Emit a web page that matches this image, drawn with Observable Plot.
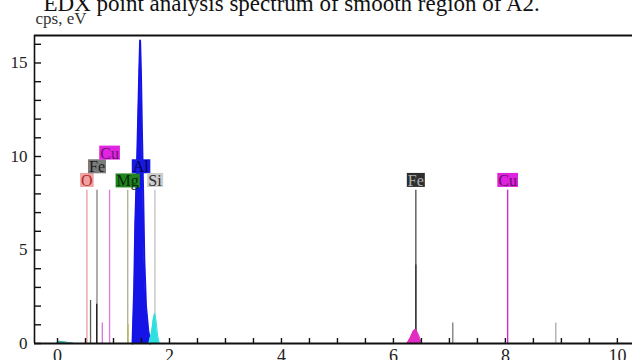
<!DOCTYPE html>
<html><head><meta charset="utf-8">
<script src="https://cdn.jsdelivr.net/npm/d3@7"></script>
<script src="https://cdn.jsdelivr.net/npm/@observablehq/plot@0.6"></script>
<style>
html,body{margin:0;padding:0;background:#fff;}
#chart{width:632px;height:360px;overflow:hidden;position:relative;}
#chart svg text{font-family:"Liberation Serif","Times New Roman",serif;}
</style></head><body><div id="chart"></div>
<script>
// ---- text ----
const title = "EDX point analysis spectrum of smooth region of A2.";
const yAxisLabel = "cps, eV";
const xTickLabels = [0, 2, 4, 6, 8, 10];
const yTickLabels = [0, 5, 10, 15];
const xMinorTicks = [0,0.5,1,1.5,2,2.5,3,3.5,4,4.5,5,5.5,6,6.5,7,7.5,8,8.5,9,9.5,10];
const yMinorTicks = [0,1,2,3,4,5,6,7,8,9,10,11,12,13,14,15,16];

// ---- element markers ----
const elements      = ["O", "Fe", "Cu", "Mg", "Al", "Si", "Fe", "Cu"];
const elementKeV    = [0.525, 0.705, 0.93, 1.254, 1.487, 1.74, 6.40, 8.04];
const labelTier     = [0, 1, 2, 0, 1, 0, 0, 0];
const labelBg       = ["#f0a2a2", "#7c7c7c", "#e024e0", "#1f861f", "#1818e0", "#cdcdcd", "#2e2e2e", "#de22de"];
const labelInk      = ["#b42828", "#1e1e1e", "#6e146e", "#0a260a", "#00004e", "#2e2e2e", "#b0b0b0", "#6a0f6a"];
const markerColor   = ["#e6a4a4", "#8a8a8a", "#e07ee0", "#a9b79a", "#1818e0", "#c4c4c4", "#555555", "#d02cd0"];

// ---- thin spectrum spikes ----
const spikeKeV   = [0.59, 0.70, 0.80, 1.26, 6.40, 7.06, 8.90];
const spikeCps   = [2.3, 2.1, 1.1, 1.0, 4.2, 1.1, 1.1];
const spikeColor = ["#5a5a5a", "#1e1e1e", "#e070e0", "#b8b860", "#333333", "#7a7a7a", "#aaaaaa"];

// ---- filled peaks ----
const alPeakKeV = [1.34, 1.37, 1.39, 1.42, 1.44, 1.46, 1.475, 1.49, 1.51, 1.53, 1.55, 1.58, 1.62, 1.66];
const alPeakCps = [0, 3, 6.5, 9.5, 12, 14.5, 16.2, 14.5, 11, 8, 4.5, 2, 0.7, 0];
const siPeakKeV = [1.63, 1.68, 1.71, 1.735, 1.76, 1.79, 1.82];
const siPeakCps = [0, 0.6, 1.3, 1.62, 1.2, 0.4, 0];
const feKPeakKeV = [6.24, 6.30, 6.36, 6.40, 6.45, 6.50];
const feKPeakCps = [0, 0.3, 0.7, 0.75, 0.45, 0];
const zeroPeakKeV = [-0.02, 0.03, 0.12, 0.25, 0.30];
const zeroPeakCps = [0, 0.12, 0.08, 0.03, 0];

const xDomain = [-0.411, 10.27];
const yDomain = [0, 16.47];
const markerTop = 8.2;
const tierCps = [8.7, 9.43, 10.16];
const serif = "Liberation Serif, Times New Roman, serif";

const zip = (xs, ys) => xs.map((x, i) => ({x, y: ys[i]}));
const markers = elements.map((e, i) => ({e, x: elementKeV[i], tier: labelTier[i], bg: labelBg[i], ink: labelInk[i], mc: markerColor[i]}));
const spikes = spikeKeV.map((x, i) => ({x, y: spikeCps[i], c: spikeColor[i]}));

const peak = (xs, ys, color, sw) => [
  Plot.areaY(zip(xs, ys), {x: "x", y: "y", fill: color}),
  Plot.line(zip(xs, ys), {x: "x", y: "y", stroke: color, strokeWidth: sw})
];

const plot = Plot.plot({
  width: 632, height: 360,
  marginLeft: 34, marginRight: 0, marginTop: 35, marginBottom: 17,
  style: {fontFamily: serif, color: "#222", background: "#fff", overflow: "visible"},
  x: {domain: xDomain},
  y: {domain: yDomain},
  marks: [
    Plot.ruleX(markers, {x: "x", y1: 0, y2: markerTop, stroke: "mc", strokeWidth: 1.4}),
    Plot.ruleX(spikes, {x: "x", y1: 0, y2: "y", stroke: "c", strokeWidth: 1.3}),
    ...peak(zeroPeakKeV, zeroPeakCps, "#3bb0a0", 1),
    ...peak(alPeakKeV, alPeakCps, "#1414e6", 2),
    ...peak(siPeakKeV, siPeakCps, "#2fe0e0", 1),
    ...peak(feKPeakKeV, feKPeakCps, "#e02cc0", 1),
    Plot.ruleY([yDomain[0]], {stroke: "#111", strokeWidth: 2}),
    Plot.ruleY([yDomain[1]], {stroke: "#111", strokeWidth: 2}),
    Plot.ruleX([xDomain[0]], {stroke: "#111", strokeWidth: 1.6}),
    Plot.tickX(xMinorTicks, {x: d => d, insetTop: 303, stroke: "#111", strokeWidth: 1.4}),
    Plot.tickY(yMinorTicks, {y: d => d, insetRight: 591, stroke: "#111", strokeWidth: 1.4}),
    Plot.axisX(xTickLabels, {tickSize: 0, tickPadding: 6, fontSize: 18, fontFamily: serif, label: null}),
    Plot.axisY(yTickLabels, {tickSize: 0, tickPadding: 7, fontSize: 17, fontFamily: serif, label: null}),
    Plot.text(markers, {x: "x", y: d => tierCps[d.tier], text: "e", fill: "ink", fontSize: 16, fontFamily: serif}),
    Plot.text([title], {frameAnchor: "top-left", dx: 9, dy: -25, textAnchor: "start", lineAnchor: "bottom", fontSize: 23, fill: "#111", fontFamily: serif}),
    Plot.text([yAxisLabel], {frameAnchor: "top-left", dx: 1, dy: -12, textAnchor: "start", lineAnchor: "bottom", fontSize: 17, fill: "#333", fontFamily: serif})
  ]
});

document.getElementById("chart").append(plot);

// label background boxes (behind each element label)
const ns = "http://www.w3.org/2000/svg";
const groups = Array.from(plot.querySelectorAll("g"));
const labelGroup = groups.find(g => {
  const ts = Array.from(g.children).filter(c => c.tagName.toLowerCase() === "text");
  return ts.length === elements.length && ts.map(t => t.textContent).join("|") === elements.join("|");
});
if (labelGroup) {
  const ts = Array.from(labelGroup.children).filter(c => c.tagName.toLowerCase() === "text");
  ts.forEach((t, i) => {
    const b = t.getBBox();
    const r = document.createElementNS(ns, "rect");
    r.setAttribute("x", b.x - 1);
    r.setAttribute("y", b.y + (b.height - 14) / 2 - 0.5);
    r.setAttribute("width", b.width + 2);
    r.setAttribute("height", 14);
    r.setAttribute("fill", markers[i].bg);
    const tr = t.getAttribute("transform");
    if (tr) r.setAttribute("transform", tr);
    labelGroup.insertBefore(r, t);
  });
}
</script></body></html>
